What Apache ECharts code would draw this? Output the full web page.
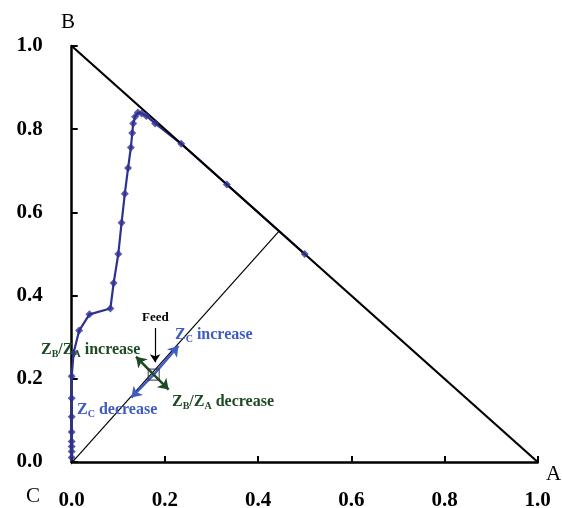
<!DOCTYPE html>
<html>
<head>
<meta charset="utf-8">
<script src="https://cdn.jsdelivr.net/npm/echarts@6/dist/echarts.min.js"></script>
<style>
  html, body { margin: 0; padding: 0; background: #fff; }
  #main { width: 562px; height: 508px; }
</style>
</head>
<body>
<div id="main"></div>
<script>
// composition path (x = A fraction, y = B fraction)
const pathX = [0, 0, 0, 0, 0, 0, 0, 0, 0.004, 0.016, 0.038, 0.083, 0.090, 0.100, 0.107, 0.114, 0.121, 0.127, 0.130, 0.132, 0.136, 0.142, 0.150, 0.160, 0.179, 0.235, 0.333, 0.500];
const pathY = [0.011, 0.025, 0.037, 0.049, 0.072, 0.109, 0.153, 0.206, 0.262, 0.316, 0.355, 0.369, 0.430, 0.500, 0.575, 0.645, 0.707, 0.756, 0.791, 0.814, 0.830, 0.840, 0.838, 0.832, 0.814, 0.765, 0.667, 0.500];

// triangle edge B-A and the line from C through the feed
const edgeX = [0, 1];
const edgeY = [1, 0];
const feedLineX = [-0.012, 0.445];
const feedLineY = [-0.017, 0.555];

const feed = [0.176, 0.21];
// arrow tips from the feed point
const zcUp = [0.229, 0.279];
const zcDown = [0.128, 0.155];
const ratioUp = [0.138, 0.253];
const ratioDown = [0.208, 0.174];
const feedArrowFrom = [0.179, 0.322];
const feedArrowTo = [0.179, 0.240];

const chart = echarts.init(document.getElementById('main'));

const serif = 'Liberation Serif';
const blue = '#3f5cc4';
const green = '#1d4a25';
const navy = '#2e3192';

function zip(xs, ys) { return xs.map((x, i) => [x, ys[i]]); }

function arrow(from, to, color, width, size) {
  return {
    type: 'lines',
    coordinateSystem: 'cartesian2d',
    symbol: ['none', 'arrow'],
    symbolSize: size,
    lineStyle: { color: color, width: width, opacity: 1 },
    data: [{ coords: [from, to] }],
    silent: true,
    z: 5
  };
}

const axisCommon = {
  type: 'value',
  min: 0,
  max: 1,
  interval: 0.2,
  axisLine: { show: true, onZero: false, lineStyle: { color: '#000', width: 2.5 } },
  axisTick: { show: true, inside: true, length: 6, lineStyle: { color: '#000', width: 2 } },
  splitLine: { show: false },
  axisLabel: {
    fontFamily: serif, fontWeight: 'bold', fontSize: 21, color: '#000',
    formatter: v => v.toFixed(1)
  }
};

function richFor(color) {
  return {
    n: { fontFamily: serif, fontWeight: 'bold', fontSize: 16, lineHeight: 18, fill: color },
    s: { fontFamily: serif, fontWeight: 'bold', fontSize: 10, lineHeight: 10, padding: [8, 0, 0, 0], fill: color }
  };
}

const option = {
  animation: false,
  grid: { left: 71.7, right: 24.3, top: 46, bottom: 46, containLabel: false, outerBoundsMode: 'none' },
  xAxis: Object.assign({}, axisCommon, { axisLabel: Object.assign({}, axisCommon.axisLabel, { margin: 28 }) }),
  yAxis: Object.assign({}, axisCommon, { axisLabel: Object.assign({}, axisCommon.axisLabel, { margin: 29 }) }),
  series: [
    {
      type: 'line',
      data: zip(pathX, pathY),
      symbol: 'none',
      clip: false,
      lineStyle: { color: navy, width: 2.2 },
      z: 2
    },
    {
      type: 'line',
      data: zip(edgeX, edgeY),
      symbol: 'none',
      lineStyle: { color: '#000', width: 2.2 },
      z: 3
    },
    {
      type: 'line',
      data: zip(feedLineX, feedLineY),
      symbol: 'none',
      clip: false,
      lineStyle: { color: '#000', width: 1.2 },
      z: 3
    },
    {
      type: 'scatter',
      data: zip(pathX, pathY),
      symbol: 'diamond',
      symbolSize: 8,
      clip: false,
      itemStyle: { color: navy },
      z: 4
    },
    arrow(feed, zcUp, blue, 2.5, 10),
    arrow(feed, zcDown, blue, 2.5, 10),
    arrow(feed, ratioUp, green, 2.5, 10),
    arrow(feed, ratioDown, green, 2.5, 10),
    arrow(feedArrowFrom, feedArrowTo, '#000', 1.2, 8),
    {
      type: 'scatter',
      data: [feed],
      symbol: 'rect',
      symbolSize: 11,
      itemStyle: { color: 'rgba(255,255,255,0)', borderColor: '#333', borderWidth: 1.2 },
      z: 6
    }
  ],
  graphic: [
    { type: 'text', z: 100, left: 61, top: 12, style: { text: 'B', font: '21px ' + serif, fill: '#000' } },
    { type: 'text', z: 100, left: 26, top: 486, style: { text: 'C', font: '21px ' + serif, fill: '#000' } },
    { type: 'text', z: 100, left: 546, top: 464, style: { text: 'A', font: '21px ' + serif, fill: '#000' } },
    { type: 'text', z: 100, left: 142, top: 311, style: { text: 'Feed', font: 'bold 13px ' + serif, fill: '#000' } },
    { type: 'text', z: 100, left: 175, top: 326, style: { text: '{n|Z}{s|C}{n| increase}', rich: richFor(blue) } },
    { type: 'text', z: 100, left: 41, top: 341, style: { text: '{n|Z}{s|B}{n|/Z}{s|A}{n| increase}', rich: richFor(green) } },
    { type: 'text', z: 100, left: 77, top: 401, style: { text: '{n|Z}{s|C}{n| decrease}', rich: richFor(blue) } },
    { type: 'text', z: 100, left: 172, top: 393, style: { text: '{n|Z}{s|B}{n|/Z}{s|A}{n| decrease}', rich: richFor(green) } }
  ]
};

chart.setOption(option);
</script>
</body>
</html>
